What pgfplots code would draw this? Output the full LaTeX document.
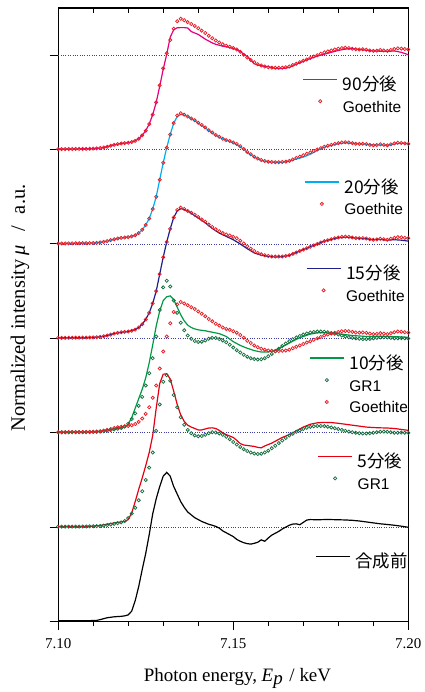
\documentclass[border=0pt]{standalone}
\usepackage{fontspec}
\setmainfont{Liberation Serif}
\newfontfamily\cjk{Noto Sans CJK JP}
\newfontfamily\lsans{Liberation Sans}
\usepackage{pgfplots}
\usepackage{pgfplotstable}
\pgfplotsset{compat=1.18}

\definecolor{cMag}{RGB}{230,0,126}
\definecolor{cGoe}{RGB}{232,28,36}
\definecolor{cCyan}{RGB}{0,174,239}
\definecolor{cNavy}{RGB}{29,32,136}
\definecolor{cGreen}{RGB}{0,153,68}
\definecolor{cGR}{RGB}{22,112,64}
\definecolor{cRed}{RGB}{230,0,18}
\definecolor{cDot}{RGB}{60,60,170}

% Goethite reference (circles)
\pgfplotstableread{
x y
7.100 0.005
7.101 0.005
7.102 0.005
7.103 0.006
7.104 0.006
7.105 0.007
7.106 0.007
7.107 0.008
7.108 0.008
7.109 0.009
7.110 0.010
7.111 0.012
7.112 0.016
7.113 0.022
7.114 0.030
7.115 0.040
7.116 0.050
7.117 0.058
7.118 0.064
7.119 0.068
7.120 0.072
7.121 0.080
7.122 0.092
7.123 0.115
7.124 0.150
7.125 0.200
7.126 0.270
7.127 0.370
7.128 0.500
7.129 0.680
7.130 0.860
7.131 1.020
7.132 1.160
7.133 1.280
7.134 1.360
7.135 1.385
7.136 1.370
7.137 1.350
7.138 1.330
7.139 1.310
7.140 1.285
7.141 1.260
7.142 1.235
7.143 1.205
7.144 1.180
7.145 1.155
7.146 1.135
7.147 1.115
7.148 1.100
7.149 1.090
7.150 1.075
7.151 1.060
7.152 1.035
7.153 1.005
7.154 0.975
7.155 0.950
7.156 0.925
7.157 0.905
7.158 0.890
7.159 0.880
7.160 0.872
7.161 0.868
7.162 0.866
7.163 0.866
7.164 0.868
7.165 0.872
7.166 0.880
7.167 0.895
7.168 0.910
7.169 0.925
7.170 0.940
7.171 0.955
7.172 0.970
7.173 0.985
7.174 1.000
7.175 1.015
7.176 1.030
7.177 1.040
7.178 1.050
7.179 1.060
7.180 1.068
7.181 1.075
7.182 1.078
7.183 1.075
7.184 1.068
7.185 1.062
7.186 1.060
7.187 1.062
7.188 1.058
7.189 1.050
7.190 1.045
7.191 1.048
7.192 1.055
7.193 1.050
7.194 1.045
7.195 1.055
7.196 1.065
7.197 1.072
7.198 1.070
7.199 1.065
7.200 1.060
}\goethite

% GR1 reference (circles)
\pgfplotstableread{
x y
7.100 0.005
7.101 0.005
7.102 0.005
7.103 0.005
7.104 0.006
7.105 0.006
7.106 0.006
7.107 0.007
7.108 0.007
7.109 0.008
7.110 0.009
7.111 0.010
7.112 0.012
7.113 0.016
7.114 0.022
7.115 0.028
7.116 0.035
7.117 0.042
7.118 0.050
7.119 0.065
7.120 0.095
7.121 0.145
7.122 0.205
7.123 0.285
7.124 0.380
7.125 0.500
7.126 0.630
7.127 0.790
7.128 1.020
7.129 1.300
7.130 1.540
7.131 1.610
7.132 1.550
7.133 1.400
7.134 1.270
7.135 1.165
7.136 1.085
7.137 1.030
7.138 0.995
7.139 0.972
7.140 0.962
7.141 0.965
7.142 0.978
7.143 0.995
7.144 1.005
7.145 1.003
7.146 0.993
7.147 0.978
7.148 0.958
7.149 0.932
7.150 0.902
7.151 0.875
7.152 0.850
7.153 0.826
7.154 0.806
7.155 0.790
7.156 0.780
7.157 0.775
7.158 0.778
7.159 0.790
7.160 0.810
7.161 0.835
7.162 0.862
7.163 0.890
7.164 0.918
7.165 0.945
7.166 0.970
7.167 0.990
7.168 1.010
7.169 1.025
7.170 1.040
7.171 1.052
7.172 1.062
7.173 1.068
7.174 1.072
7.175 1.072
7.176 1.070
7.177 1.064
7.178 1.056
7.179 1.048
7.180 1.040
7.181 1.030
7.182 1.020
7.183 1.012
7.184 1.005
7.185 1.000
7.186 0.995
7.187 0.992
7.188 0.992
7.189 0.995
7.190 1.000
7.191 1.005
7.192 1.010
7.193 1.012
7.194 1.010
7.195 1.005
7.196 1.000
7.197 1.000
7.198 1.002
7.199 1.000
7.200 0.998
}\grone

% 90 min
\pgfplotstableread{
x y
7.100 0.005
7.105 0.007
7.110 0.010
7.112 0.016
7.114 0.030
7.116 0.050
7.118 0.064
7.120 0.072
7.121 0.080
7.122 0.092
7.123 0.115
7.124 0.150
7.125 0.200
7.126 0.270
7.127 0.370
7.128 0.500
7.129 0.670
7.130 0.850
7.131 1.010
7.132 1.190
7.133 1.270
7.134 1.290
7.135 1.292
7.136 1.292
7.137 1.288
7.138 1.250
7.139 1.235
7.140 1.220
7.141 1.195
7.142 1.170
7.143 1.150
7.144 1.130
7.145 1.115
7.146 1.105
7.147 1.095
7.148 1.090
7.149 1.080
7.150 1.070
7.151 1.060
7.152 1.040
7.153 1.010
7.154 0.985
7.155 0.950
7.156 0.910
7.157 0.895
7.158 0.888
7.159 0.882
7.160 0.878
7.162 0.860
7.164 0.858
7.166 0.870
7.168 0.905
7.170 0.935
7.172 0.965
7.174 0.990
7.176 1.010
7.178 1.030
7.180 1.050
7.182 1.065
7.184 1.070
7.186 1.060
7.188 1.052
7.190 1.045
7.192 1.042
7.194 1.040
7.196 1.045
7.198 1.030
7.200 1.005
}\ninety

% 20 min
\pgfplotstableread{
x y
7.100 0.005
7.104 0.006
7.108 0.008
7.110 0.010
7.112 0.016
7.114 0.030
7.116 0.050
7.118 0.064
7.120 0.072
7.122 0.092
7.123 0.115
7.124 0.150
7.125 0.200
7.126 0.270
7.127 0.370
7.128 0.500
7.129 0.680
7.130 0.860
7.131 1.020
7.132 1.160
7.133 1.280
7.134 1.350
7.135 1.375
7.136 1.365
7.137 1.350
7.138 1.330
7.140 1.280
7.142 1.230
7.144 1.175
7.146 1.130
7.148 1.100
7.150 1.072
7.152 1.030
7.154 0.970
7.156 0.920
7.158 0.885
7.160 0.870
7.162 0.865
7.164 0.866
7.166 0.878
7.168 0.900
7.170 0.920
7.172 0.950
7.174 0.990
7.176 1.025
7.178 1.045
7.180 1.062
7.182 1.072
7.184 1.066
7.186 1.060
7.188 1.057
7.190 1.048
7.192 1.050
7.194 1.045
7.196 1.058
7.198 1.068
7.200 1.062
}\twenty

% 15 min
\pgfplotstableread{
x y
7.100 0.005
7.104 0.006
7.108 0.008
7.110 0.010
7.112 0.016
7.114 0.030
7.116 0.050
7.118 0.064
7.120 0.072
7.122 0.092
7.123 0.115
7.124 0.150
7.125 0.200
7.126 0.270
7.127 0.370
7.128 0.500
7.129 0.680
7.130 0.860
7.131 1.020
7.132 1.160
7.133 1.280
7.134 1.350
7.135 1.375
7.136 1.365
7.137 1.350
7.138 1.325
7.140 1.275
7.142 1.225
7.144 1.165
7.146 1.115
7.148 1.080
7.150 1.045
7.152 1.000
7.154 0.950
7.156 0.905
7.158 0.880
7.160 0.868
7.162 0.862
7.164 0.865
7.166 0.880
7.168 0.910
7.170 0.940
7.172 0.970
7.174 1.000
7.176 1.030
7.178 1.050
7.180 1.065
7.182 1.072
7.184 1.066
7.186 1.060
7.188 1.055
7.190 1.045
7.192 1.048
7.194 1.040
7.196 1.045
7.198 1.040
7.200 1.030
}\fifteen

% 10 min
\pgfplotstableread{
x y
7.100 0.005
7.104 0.006
7.108 0.008
7.110 0.010
7.112 0.016
7.114 0.028
7.116 0.040
7.118 0.050
7.119 0.060
7.120 0.090
7.121 0.160
7.122 0.260
7.123 0.360
7.124 0.460
7.125 0.580
7.126 0.740
7.127 0.930
7.128 1.130
7.129 1.290
7.130 1.400
7.131 1.440
7.132 1.450
7.133 1.410
7.134 1.330
7.135 1.250
7.136 1.185
7.137 1.140
7.138 1.115
7.139 1.100
7.140 1.090
7.142 1.080
7.144 1.065
7.146 1.050
7.148 1.020
7.150 0.965
7.152 0.925
7.154 0.895
7.156 0.870
7.158 0.855
7.160 0.855
7.162 0.875
7.164 0.910
7.166 0.950
7.168 0.990
7.170 1.020
7.172 1.045
7.174 1.058
7.176 1.060
7.178 1.055
7.180 1.048
7.182 1.040
7.184 1.030
7.186 1.025
7.188 1.020
7.190 1.020
7.192 1.022
7.194 1.020
7.196 1.018
7.198 1.015
7.200 1.010
}\ten

% 5 min
\pgfplotstableread{
x y
7.100 0.005
7.104 0.006
7.108 0.008
7.110 0.010
7.112 0.018
7.114 0.030
7.116 0.045
7.118 0.055
7.119 0.060
7.120 0.080
7.121 0.150
7.122 0.270
7.123 0.400
7.124 0.520
7.125 0.650
7.126 0.790
7.127 0.970
7.128 1.260
7.129 1.520
7.130 1.620
7.131 1.625
7.132 1.570
7.133 1.440
7.134 1.300
7.135 1.190
7.136 1.120
7.137 1.080
7.138 1.060
7.139 1.045
7.140 1.030
7.141 1.030
7.142 1.040
7.143 1.050
7.144 1.052
7.145 1.045
7.146 1.025
7.147 1.000
7.148 0.980
7.149 0.965
7.150 0.950
7.151 0.920
7.152 0.885
7.153 0.870
7.154 0.865
7.155 0.860
7.156 0.855
7.157 0.845
7.158 0.840
7.159 0.860
7.160 0.875
7.161 0.890
7.162 0.910
7.163 0.930
7.164 0.950
7.165 0.965
7.166 0.980
7.167 1.000
7.168 1.020
7.169 1.040
7.170 1.060
7.172 1.090
7.174 1.105
7.176 1.110
7.178 1.108
7.180 1.100
7.182 1.090
7.184 1.080
7.186 1.070
7.188 1.060
7.190 1.055
7.192 1.052
7.194 1.050
7.196 1.045
7.198 1.035
7.200 1.025
}\five

% before synthesis
\pgfplotstableread{
x y
7.100 0.007
7.104 0.008
7.108 0.009
7.110 0.010
7.111 0.012
7.112 0.020
7.113 0.030
7.114 0.040
7.116 0.050
7.118 0.055
7.119 0.060
7.120 0.070
7.121 0.110
7.122 0.220
7.123 0.370
7.124 0.550
7.125 0.720
7.126 0.920
7.127 1.140
7.128 1.300
7.129 1.430
7.130 1.540
7.131 1.580
7.132 1.540
7.133 1.430
7.134 1.350
7.135 1.270
7.136 1.210
7.137 1.160
7.138 1.130
7.139 1.100
7.140 1.080
7.141 1.060
7.142 1.045
7.143 1.030
7.144 1.020
7.145 1.008
7.146 0.990
7.147 0.960
7.148 0.940
7.149 0.920
7.150 0.900
7.151 0.870
7.152 0.850
7.153 0.835
7.154 0.825
7.155 0.820
7.156 0.828
7.157 0.840
7.158 0.865
7.159 0.850
7.160 0.885
7.161 0.915
7.162 0.935
7.163 0.955
7.164 0.980
7.165 1.000
7.166 1.020
7.167 1.032
7.168 1.035
7.169 1.025
7.170 1.050
7.171 1.075
7.172 1.080
7.174 1.078
7.176 1.080
7.178 1.080
7.180 1.078
7.182 1.076
7.184 1.072
7.186 1.065
7.188 1.055
7.190 1.045
7.192 1.035
7.194 1.028
7.196 1.020
7.198 1.010
7.200 0.998
}\before

\pgfplotsset{
  base/.style={width=351pt,height=615pt,scale only axis,
    xmin=7.1,xmax=7.2,ymin=0,ymax=6.5},
  legax/.style={base,hide axis,
    legend cell align=left,
    legend style={draw=none,fill=none,inner sep=0pt,outer sep=0pt,
      anchor=north west,row sep=6pt,column sep=5pt,
      nodes={inner sep=0pt,text height=12pt,text depth=3pt}}},
  circ/.style={only marks,mark=o,mark size=1.6pt,mark options={line width=0.75pt}},
  ln/.style={line width=1.2pt,no marks},
}

\begin{document}
\begin{tikzpicture}
\begin{axis}[base,
  xtick={7.1,7.15,7.2}, xticklabels={7.10,7.15,7.20},
  minor x tick num=4, xtick pos=bottom,
  ytick={0,1,2,3,4,5,6}, yticklabels={}, ytick pos=left,
  tick align=outside, major tick length=8.5pt, minor tick length=4.5pt,
  tick style={line width=1pt,black},
  axis line style={line width=1.1pt},
  xticklabel style={font=\fontsize{15}{17}\selectfont, yshift=-5pt},
  xlabel={Photon energy, \textit{E}$_{\textit{p}}$\hspace{6pt}/\hspace{5pt}keV},
  xlabel style={at={(axis description cs:0.512,-0.098)},anchor=base,
    font=\fontsize{19}{22}\selectfont},
  ylabel={Normalized intensity\,\textit{μ}\hspace{14pt}/\hspace{12pt}a.u.},
  ylabel style={at={(axis description cs:-0.0949,0.511)},anchor=base,
    font=\fontsize{20.5}{23}\selectfont},
]
% dotted baselines
\foreach \k in {1,...,6}{
  \edef\tmp{\noexpand\addplot[cDot,line width=0.7pt,dash pattern=on 0.8pt off 1.6pt,forget plot] coordinates {(7.1,\k) (7.2,\k)};}
  \tmp
}
% 合成前
\addplot[ln,black] table[x=x,y=y] {\before};
% 5 min
\addplot[ln,cRed] table[x=x,y expr=\thisrow{y}+1] {\five};
\addplot[circ,cGR] table[x=x,y expr=\thisrow{y}+1] {\grone};
% 10 min
\addplot[ln,cGreen] table[x=x,y expr=\thisrow{y}+2] {\ten};
\addplot[circ,cGR] table[x=x,y expr=\thisrow{y}+2] {\grone};
\addplot[circ,cGoe] table[x=x,y expr=\thisrow{y}+2] {\goethite};
% 15 min
\addplot[ln,cNavy] table[x=x,y expr=\thisrow{y}+3] {\fifteen};
\addplot[circ,cGoe] table[x=x,y expr=\thisrow{y}+3] {\goethite};
% 20 min
\addplot[ln,cCyan] table[x=x,y expr=\thisrow{y}+4] {\twenty};
\addplot[circ,cGoe] table[x=x,y expr=\thisrow{y}+4] {\goethite};
% 90 min
\addplot[ln,cMag] table[x=x,y expr=\thisrow{y}+5] {\ninety};
\addplot[circ,cGoe] table[x=x,y expr=\thisrow{y}+5] {\goethite};
\coordinate (bl) at (rel axis cs:0,0);
\coordinate (tr) at (rel axis cs:1,1);
\end{axis}

% top inward ticks
\begin{axis}[base, axis x line*=top, axis y line=none,
  xtick={7.1,7.15,7.2}, xticklabels={}, minor x tick num=4,
  tick align=inside, major tick length=5pt, minor tick length=5pt,
  tick style={line width=1pt,black}, axis line style={draw=none}]
\end{axis}

% legends
\def\cj#1{{\cjk\fontsize{17.5}{19}\selectfont #1}}
\def\ls#1{{\lsans\fontsize{15.5}{17}\selectfont #1}}
\def\limg#1{legend image code/.code={\draw[#1,line width=1.3pt] (0pt,6.5pt) -- (34pt,6.5pt);}}
\def\cimg#1{legend image code/.code={\draw[#1,line width=0.75pt] (17pt,6.5pt) circle[radius=1.6pt];}}

\begin{axis}[legax, legend style={at={(axis description cs:0.698,0.8854)}}]
\expandafter\addlegendimage\expandafter{\limg{cMag}}\addlegendentry{\cj{90分後}}
\expandafter\addlegendimage\expandafter{\cimg{cGoe}}\addlegendentry{\ls{Goethite}}
\end{axis}
\begin{axis}[legax, legend style={at={(axis description cs:0.7028,0.7179)}}]
\expandafter\addlegendimage\expandafter{\limg{cCyan}}\addlegendentry{\cj{20分後}}
\expandafter\addlegendimage\expandafter{\cimg{cGoe}}\addlegendentry{\ls{Goethite}}
\end{axis}
\begin{axis}[legax, legend style={at={(axis description cs:0.7077,0.5772)}}]
\expandafter\addlegendimage\expandafter{\limg{cNavy}}\addlegendentry{\cj{15分後}}
\expandafter\addlegendimage\expandafter{\cimg{cGoe}}\addlegendentry{\ls{Goethite}}
\end{axis}
\begin{axis}[legax, legend style={at={(axis description cs:0.717,0.4309)}}]
\expandafter\addlegendimage\expandafter{\limg{cGreen}}\addlegendentry{\cj{10分後}}
\expandafter\addlegendimage\expandafter{\cimg{cGR}}\addlegendentry{\ls{GR1}}
\expandafter\addlegendimage\expandafter{\cimg{cGoe}}\addlegendentry{\ls{Goethite}}
\end{axis}
\begin{axis}[legax, legend style={at={(axis description cs:0.7407,0.2707)}}]
\expandafter\addlegendimage\expandafter{\limg{cRed}}\addlegendentry{\cj{5分後}}
\expandafter\addlegendimage\expandafter{\cimg{cGR}}\addlegendentry{\ls{GR1}}
\end{axis}
\begin{axis}[legax, legend style={at={(axis description cs:0.7342,0.1081)}}]
\expandafter\addlegendimage\expandafter{\limg{black}}\addlegendentry{\cj{合成前}}
\end{axis}

\path (bl) ++(-58.3pt,-69pt);
\path (tr) ++(13.7pt,8pt);
\end{tikzpicture}
\end{document}
